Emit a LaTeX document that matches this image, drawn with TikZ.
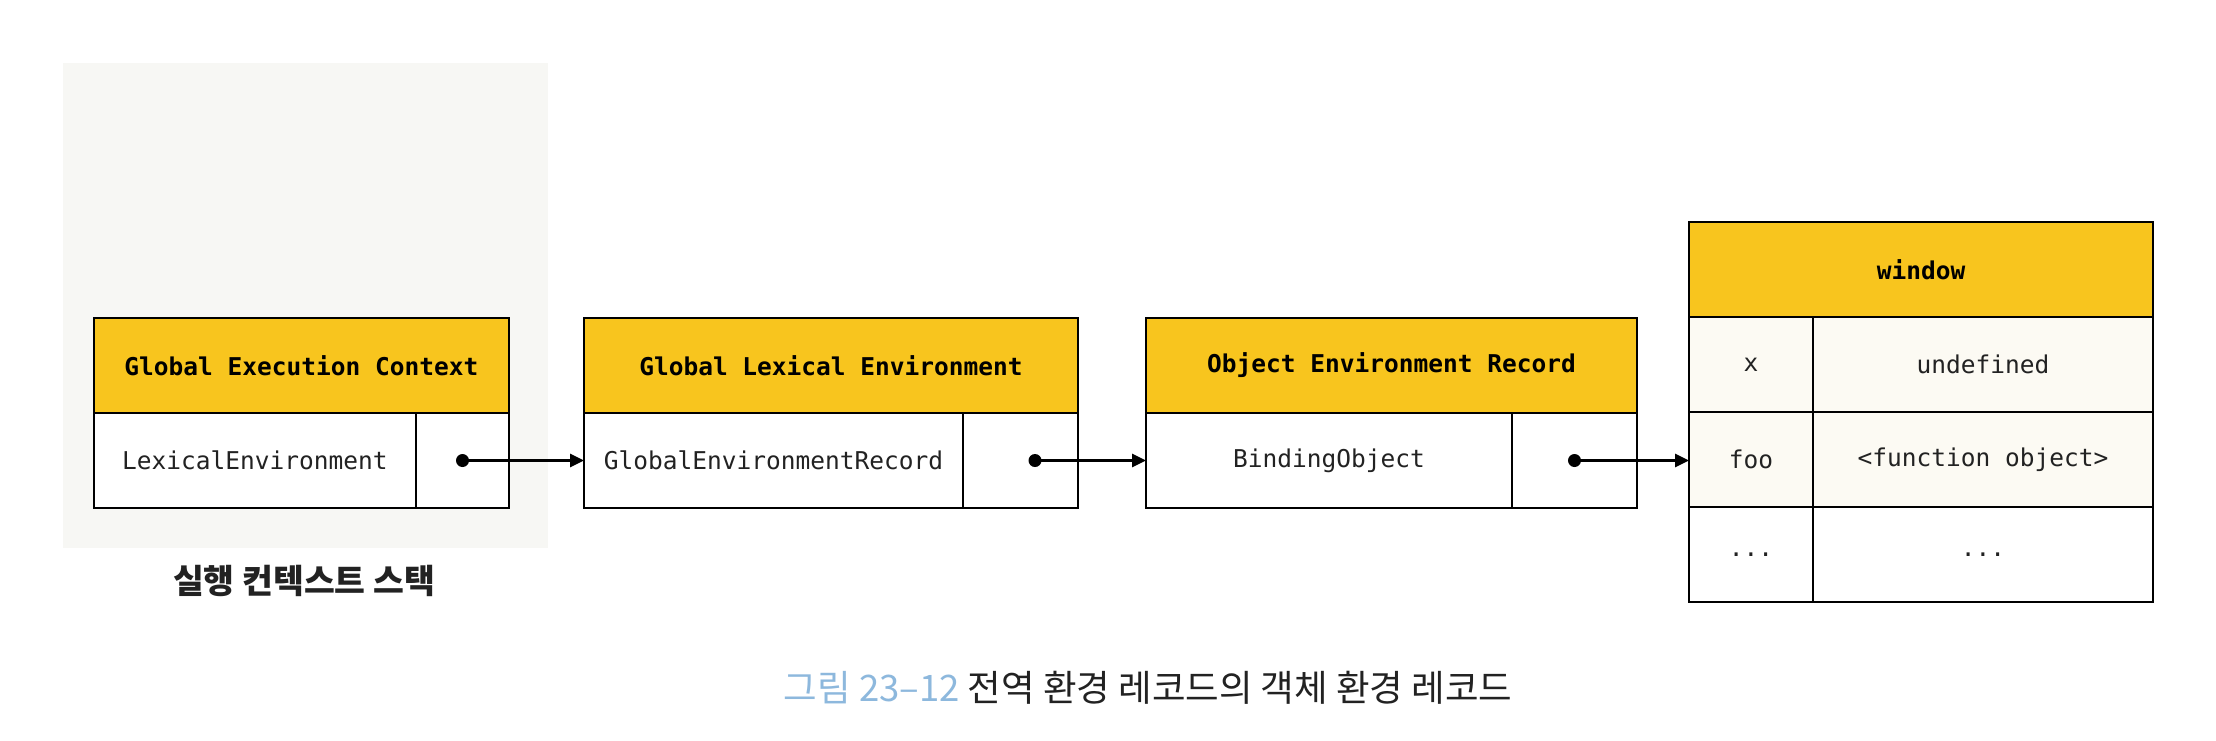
\documentclass[tikz,border=0pt]{standalone}
\usepackage{fontspec}
\setmonofont{DejaVu Sans Mono}
\newfontfamily\kr{Noto Sans CJK KR}
\usetikzlibrary{arrows.meta}
\definecolor{hdr}{HTML}{F8C51E}
\definecolor{bgg}{HTML}{F7F7F4}
\definecolor{capblue}{HTML}{8DB8DD}
\definecolor{cream}{HTML}{FCFAF3}
\definecolor{ink}{HTML}{222222}
\begin{document}
\begin{tikzpicture}[x=1pt,y=-1pt,
  cell/.style={draw=black, line width=2pt, rectangle, anchor=north west, inner sep=0pt, outer sep=0pt,
    font=\ttfamily\fontsize{24.5}{28}\selectfont, text=ink},
  head/.style={cell, fill=hdr, minimum height=95pt, text=black,
    font=\ttfamily\bfseries\fontsize{24.5}{28}\selectfont},
  row/.style={cell, minimum height=95pt},
  link/.style={line width=2.7pt, -{Triangle[length=14pt,width=13pt]}},
  dotc/.style={circle, fill=black, inner sep=0pt, minimum size=13pt}]
\useasboundingbox (0,0) rectangle (2216,740);
\fill[white] (0,0) rectangle (2216,740);
% stack background
\fill[bgg] (63,63) rectangle (548,548);
% Global Execution Context
\node[head, minimum width=415pt] (gech) at (94,318) {Global Execution Context};
\node[row, minimum width=322pt, fill=white] (gecl) at (94,413) {LexicalEnvironment};
\node[row, minimum width=93pt, fill=white] (gecr) at (416,413) {};
\node[font=\kr\bfseries\fontsize{33.5}{38}\selectfont, text=ink] (stk) at (304,581) {실행 컨텍스트 스택};
% Global Lexical Environment
\node[head, minimum width=494pt] (gleh) at (584,318) {Global Lexical Environment};
\node[row, minimum width=379pt] (glel) at (584,413) {GlobalEnvironmentRecord};
\node[row, minimum width=115pt] (gler) at (963,413) {};
% Object Environment Record
\node[head, minimum width=491pt] (oerh) at (1146,318) {Object Environment Record};
\node[row, minimum width=366pt] (oerl) at (1146,413) {BindingObject};
\node[row, minimum width=125pt] (oerr) at (1512,413) {};
% window
\node[head, minimum width=464pt] (winh) at (1689,222) {window};
\node[row, minimum width=124pt, fill=cream] (wk1) at (1689,317) {x};
\node[row, minimum width=340pt, fill=cream] (wv1) at (1813,317) {undefined};
\node[row, minimum width=124pt, fill=cream] (wk2) at (1689,412) {foo};
\node[row, minimum width=340pt, fill=cream] (wv2) at (1813,412) {<function object>};
\node[row, minimum width=124pt] (wk3) at (1689,507) {...};
\node[row, minimum width=340pt] (wv3) at (1813,507) {...};
% pointers
\node[dotc] (d1) at (gecr.center) {};
\node[dotc] (d2) at ([xshift=14.5pt]gler.center) {};
\node[dotc] (d3) at (oerr.center) {};
\draw[link] (d1.center) -- (d1.center -| glel.west);
\draw[link] (d2.center) -- (d2.center -| oerl.west);
\draw[link] (d3.center) -- (d3.center -| wk2.west);
% caption
\node[font=\kr\fontsize{36.5}{42}\selectfont, text=ink] (cap) at (1148,688) {\textcolor{capblue}{그림 23–12} 전역 환경 레코드의 객체 환경 레코드};
\end{tikzpicture}
\end{document}
